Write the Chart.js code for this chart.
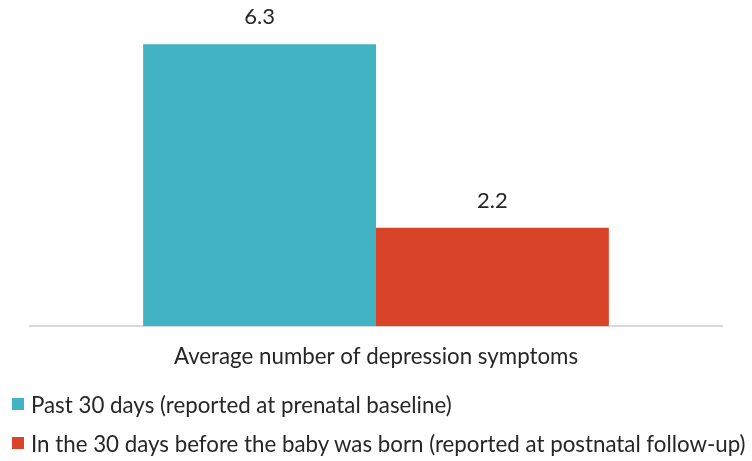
<!DOCTYPE html>
<html>
<head>
<meta charset="utf-8">
<script src="https://cdn.jsdelivr.net/npm/chart.js@4/dist/chart.umd.min.js"></script>
<style>
  body { margin: 0; background: #fff; font-family: Lato, sans-serif; }
  #wrap { position: relative; width: 752px; height: 461px; }
  #legend { position: absolute; left: 12px; top: 390px; color: #262626; font-size: 22.3px; }
  .item { display: flex; align-items: center; height: 28px; margin-bottom: 11px; white-space: nowrap; }
  .box { width: 12px; height: 12px; margin-right: 7px; }
</style>
</head>
<body>
<div id="wrap">
  <canvas id="chart" width="752" height="397"></canvas>
  <div id="legend"></div>
</div>
<script>
const categories = ['Average number of depression symptoms'];
const seriesNames = ['Past 30 days (reported at prenatal baseline)',
                     'In the 30 days before the baby was born (reported at postnatal follow-up)'];
const prenatalValues = [6.3];
const postnatalValues = [2.2];
const seriesColors = ['#42b3c2', '#d94428'];

// value labels above each bar
const valueLabels = {
    id: 'valueLabels',
    afterDatasetsDraw(chart) {
        const ctx = chart.ctx;
        ctx.save();
        ctx.font = '22px Lato';
        ctx.fillStyle = '#262626';
        ctx.textAlign = 'center';
        ctx.textBaseline = 'bottom';
        chart.data.datasets.forEach((ds, i) => {
            chart.getDatasetMeta(i).data.forEach((bar, j) => {
                ctx.fillText(ds.data[j].toFixed(1), bar.x, bar.y - 16);
            });
        });
        ctx.restore();
    }
};

const ctx = document.getElementById('chart').getContext('2d');
const chart = new Chart(ctx, {
    type: 'bar',
    data: {
        labels: categories,
        datasets: [
            { label: seriesNames[0], data: prenatalValues, backgroundColor: seriesColors[0] },
            { label: seriesNames[1], data: postnatalValues, backgroundColor: seriesColors[1] }
        ]
    },
    options: {
        responsive: false,
        animation: false,
        barPercentage: 1,
        categoryPercentage: 0.673,
        layout: { padding: { left: 30, right: 30, top: 13, bottom: 10 } },
        scales: {
            y: { display: false, min: 0, max: 7 },
            x: {
                grid: { display: false, drawTicks: false },
                border: { display: true, color: '#d9d9d9', width: 2 },
                ticks: { color: '#262626', font: { family: 'Lato', size: 22.3 }, padding: 17 }
            }
        },
        plugins: { legend: { display: false }, tooltip: { enabled: false } }
    },
    plugins: [valueLabels]
});

// legend rows, left aligned like the original
const legend = document.getElementById('legend');
chart.data.datasets.forEach(ds => {
    const item = document.createElement('div');
    item.className = 'item';
    item.innerHTML = `<span class="box" style="background:${ds.backgroundColor}"></span>${ds.label}`;
    legend.appendChild(item);
});
</script>
</body>
</html>
